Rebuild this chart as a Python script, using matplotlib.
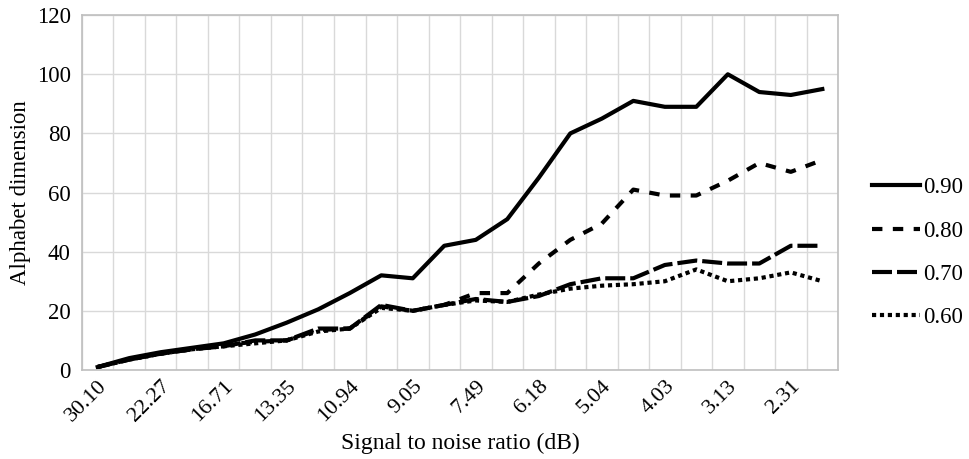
import matplotlib.pyplot as plt
import numpy as np

plt.rcParams["font.family"] = ["Liberation Serif", "DejaVu Serif"]

snr = ["30.10", "", "22.27", "", "16.71", "", "13.35", "", "10.94", "", "9.05", "",
       "7.49", "", "6.18", "", "5.04", "", "4.03", "", "3.13", "", "2.31", ""]

s090 = [1, 4, 6, 7.5, 9, 12, 16, 20.5, 26, 32, 31, 42,
        44, 51, 65, 80, 85, 91, 89, 89, 100, 94, 93, 95]
s080 = [1, 3.5, 5.5, 7, 8.5, 9.5, 10, 13.5, 14, 21.5, 20, 22,
        26, 26, 36, 44, 49.5, 61, 59, 59, 64, 70, 67, 71]
s070 = [1, 3.5, 5.5, 7, 8, 10, 10, 14, 14, 22, 20, 22,
        24, 23, 25, 29, 31, 31, 35.5, 37, 36, 36, 42, 42]
s060 = [1, 3.5, 5.5, 7, 8, 9, 10, 13, 14, 21, 20, 22,
        23.5, 23, 25.5, 27.5, 28.5, 29, 30, 34, 30, 31, 33, 30]

series = [("0.90", s090, None),
          ("0.80", s080, (2.5, 2.5)),
          ("0.70", s070, (4.8, 1.2)),
          ("0.60", s060, (1, 0.9))]

fig = plt.figure(figsize=(9.7, 4.59), dpi=100)
ax = fig.add_axes([0.0845, 0.194, 0.7795, 0.773])

x = np.arange(len(snr))
for name, vals, dash in series:
    line, = ax.plot(x, vals, color="black", lw=3, label=name,
                    solid_joinstyle="round")
    if dash is not None:
        line.set_dashes(dash)

ax.set_xlim(-0.5, len(snr) - 0.5)
ax.set_ylim(0, 120)
ax.set_yticks(np.arange(0, 121, 20))
ax.set_xticks(x)
ax.set_xticklabels(snr, rotation=45, ha="right", rotation_mode="anchor")
ax.set_xticks(np.arange(-0.5, len(snr), 1), minor=True)
ax.tick_params(axis="both", which="both", length=0, labelsize=16.5)
ax.tick_params(axis="x", pad=5, labelsize=16)
ax.tick_params(axis="y", pad=8)

ax.grid(True, which="minor", axis="x", color="#d9d9d9", lw=1)
ax.grid(True, which="major", axis="y", color="#d9d9d9", lw=1)
ax.set_axisbelow(True)
for sp in ax.spines.values():
    sp.set_color("#bfbfbf")
    sp.set_linewidth(1.2)

ax.set_xlabel("Signal to noise ratio (dB)", fontsize=17, labelpad=5)
ax.set_ylabel("Alphabet dimension", fontsize=16.5, labelpad=4)

ax.legend(loc="center left", bbox_to_anchor=(1.018, 0.33), frameon=False,
          fontsize=16.5, handlelength=2.1, labelspacing=0.97, handletextpad=0.1)

fig.savefig("out.png", dpi=100)
